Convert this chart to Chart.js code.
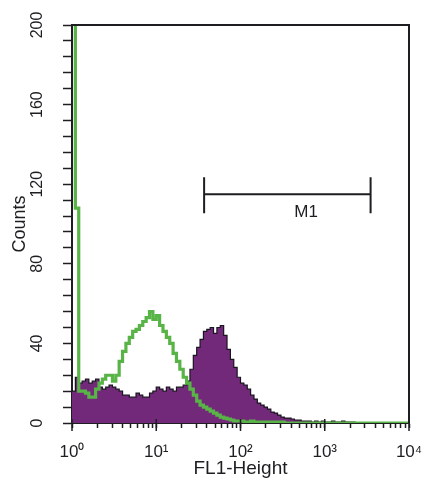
<!DOCTYPE html>
<html lang="en">
<head>
    <meta charset="UTF-8" />
    <title>FL1-Height histogram</title>
    <script src="https://cdn.jsdelivr.net/npm/chart.js"></script>
    <style>
        html, body { margin: 0; padding: 0; background: #fff; }
        #wrap { width: 429px; height: 480px; }
    </style>
</head>
<body>
<div id="wrap"><canvas id="histChart" width="429" height="480"></canvas></div>
<script>
    // channel bins: 25 per decade over 10^0 .. 10^4 (x axis is log10 of FL1)
    const decades = 4;
    const binsPerDecade = 25;

    // stained sample (purple, filled)
    const sampleCounts = [
        16, 23, 20, 21, 22, 20, 21, 22, 18, 17,
        18, 19, 18, 17, 16, 14, 14, 13, 13, 15,
        14, 13, 13, 15, 16, 18, 17, 16, 18, 17,
        16, 18, 18, 19, 21, 27, 34, 38, 42, 46,
        47, 48, 45, 48, 49, 44, 37, 32, 28, 23,
        20, 19, 17, 14, 12, 10, 9, 8, 7, 5.5,
        5, 4, 3, 2.5, 2.5, 2, 1.5, 1.5, 1, 1,
        1, 0.5, 1, 0.5, 1, 0.5, 0.5, 1, 0.5, 0.5,
        1, 0.5, 0.5, 0.5, 0, 0, 0, 0, 0, 0,
        0, 0, 0, 0, 0, 0, 0, 0, 0, 0
    ];

    // control (green outline)
    const controlCounts = [
        250, 108, 16, 16, 15, 13, 13, 17, 20, 22,
        24, 24, 21, 24, 31, 36, 40, 43, 46, 47,
        49, 51, 53, 56, 52, 54, 49, 46, 43, 40,
        35, 31, 27, 23, 20, 17, 14, 11, 9, 8,
        7, 6, 5, 4, 3, 2.5, 2, 1.5, 1, 1,
        1, 0.5, 0.5, 1, 0.5, 0.5, 0.5, 0.5, 0.5, 0.5,
        0.5, 0.5, 0.5, 0, 0, 0, 0, 0, 0, 0,
        0, 0, 0, 0, 0, 0, 0, 0, 0, 0,
        0, 0, 0, 0, 0, 0, 0, 0, 0, 0,
        0, 0, 0, 0, 0, 0, 0, 0, 0, 0
    ];

    const xTickLabels = ['10\u2070', '10\u00b9', '10\u00b2', '10\u00b3', '10\u2074'];
    const xMinorMultipliers = [2, 3, 4, 5, 6, 7, 8, 9];
    const yTickLabels = [0, 40, 80, 120, 160, 200];
    const yMinorStep = 8;

    // M1 marker gate (FL1 values) and its height in counts
    const m1Range = [37, 3500];
    const m1Level = 115;
    const m1LabelAt = 600;

    const FONT = "'Liberation Sans', Arial, sans-serif";
    const AXIS = '#1e1e22';

    function toPoints(counts) {
        const pts = counts.map((c, i) => ({ x: i / binsPerDecade, y: c }));
        pts.push({ x: decades, y: counts[counts.length - 1] });
        return pts;
    }

    const xTicks = [];
    for (let d = 0; d < decades; d++) {
        xTicks.push(d);
        xMinorMultipliers.forEach(m => xTicks.push(d + Math.log10(m)));
    }
    xTicks.push(decades);

    const framePlugin = {
        id: 'frame',
        afterDatasetsDraw(chart) {
            const { ctx, chartArea: a, scales } = chart;
            ctx.save();
            ctx.strokeStyle = AXIS;
            ctx.lineWidth = 2;
            ctx.beginPath();
            ctx.moveTo(a.left, a.top);
            ctx.lineTo(a.right, a.top);
            ctx.lineTo(a.right, a.bottom);
            ctx.stroke();

            // longer marks at the decades
            ctx.lineWidth = 1.5;
            ctx.beginPath();
            for (let d = 0; d <= decades; d++) {
                const px = scales.x.getPixelForValue(d);
                ctx.moveTo(px, a.bottom - 4);
                ctx.lineTo(px, a.bottom + 8);
            }
            ctx.stroke();

            // M1 gate
            const x0 = scales.x.getPixelForValue(Math.log10(m1Range[0]));
            const x1 = scales.x.getPixelForValue(Math.log10(m1Range[1]));
            const yl = scales.y.getPixelForValue(m1Level);
            ctx.lineWidth = 2;
            ctx.beginPath();
            ctx.moveTo(x0, yl); ctx.lineTo(x1, yl);
            ctx.moveTo(x0, yl - 17); ctx.lineTo(x0, yl + 19);
            ctx.moveTo(x1, yl - 17); ctx.lineTo(x1, yl + 19);
            ctx.stroke();
            ctx.fillStyle = AXIS;
            ctx.font = '17px ' + FONT;
            ctx.textAlign = 'center';
            ctx.textBaseline = 'middle';
            ctx.fillText('M1', scales.x.getPixelForValue(Math.log10(m1LabelAt)), yl + 18);
            ctx.restore();
        }
    };

    new Chart(document.getElementById('histChart').getContext('2d'), {
        type: 'line',
        data: {
            datasets: [
                {
                    label: 'Control',
                    data: toPoints(controlCounts),
                    stepped: 'before',
                    borderColor: '#58b446',
                    borderWidth: 3.2,
                    pointRadius: 0,
                    fill: false,
                    order: 0
                },
                {
                    label: 'Sample',
                    data: toPoints(sampleCounts),
                    stepped: 'before',
                    borderColor: '#1a1420',
                    borderWidth: 1.2,
                    backgroundColor: '#73297a',
                    pointRadius: 0,
                    fill: 'origin',
                    order: 1
                }
            ]
        },
        options: {
            responsive: false,
            animation: false,
            events: [],
            layout: { padding: { left: 9, top: 25, right: 20, bottom: 0 } },
            plugins: {
                legend: { display: false },
                tooltip: { enabled: false }
            },
            scales: {
                x: {
                    type: 'linear',
                    min: 0,
                    max: decades,
                    afterBuildTicks: scale => { scale.ticks = xTicks.map(v => ({ value: v })); },
                    afterFit: scale => {
                        scale.height = 57;
                        scale.paddingLeft = 0;
                        scale.paddingRight = 0;
                    },
                    grid: { drawOnChartArea: false, drawTicks: true, tickLength: 5, color: AXIS, tickWidth: 1.5 },
                    border: { display: true, color: AXIS, width: 2 },
                    ticks: {
                        autoSkip: false,
                        maxRotation: 0,
                        padding: 14,
                        color: AXIS,
                        font: { family: FONT, size: 17 },
                        callback: v => Number.isInteger(v) ? xTickLabels[v] : ''
                    },
                    title: {
                        display: true,
                        text: 'FL1-Height',
                        color: AXIS,
                        font: { family: FONT, size: 19 },
                        padding: { top: 0, bottom: 0 }
                    }
                },
                y: {
                    min: 0,
                    max: 200,
                    afterFit: scale => {
                        scale.width = 63;
                        scale.paddingTop = 0;
                        scale.paddingBottom = 0;
                    },
                    grid: { drawOnChartArea: false, drawTicks: true, tickLength: 9, color: AXIS, tickWidth: 1.5 },
                    border: { display: true, color: AXIS, width: 2 },
                    ticks: {
                        stepSize: yMinorStep,
                        autoSkip: false,
                        minRotation: 90,
                        maxRotation: 90,
                        crossAlign: 'center',
                        padding: 12,
                        color: AXIS,
                        font: { family: FONT, size: 16 },
                        callback: v => yTickLabels.includes(v) ? String(v) : ''
                    },
                    title: {
                        display: true,
                        text: 'Counts',
                        color: AXIS,
                        font: { family: FONT, size: 18 },
                        padding: { top: 0, bottom: 0 }
                    }
                }
            }
        },
        plugins: [framePlugin]
    });
</script>
</body>
</html>
